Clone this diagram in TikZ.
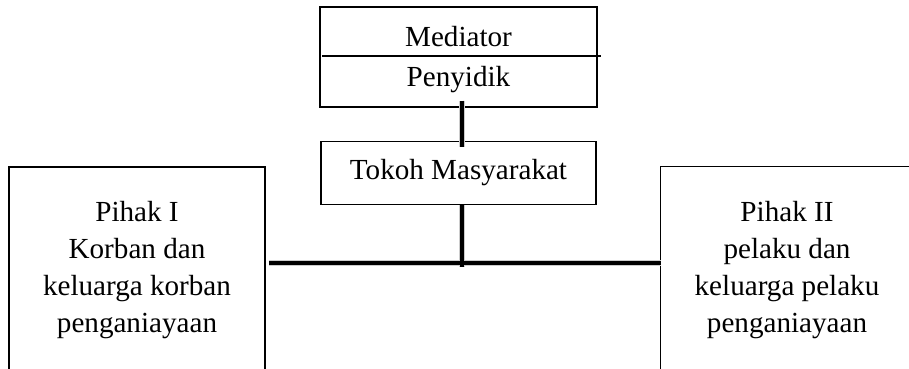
\documentclass[tikz,border=0pt]{standalone}
\usepackage{fontspec}
\setmainfont{Liberation Serif}
\usetikzlibrary{positioning}

\begin{document}
\begin{tikzpicture}[
    x=0.436pt, y=-0.436pt,
    every node/.style={font=\fontsize{12.7}{16.2}\selectfont},
    box/.style={draw, line width=0.5pt, align=center, inner sep=0pt},
    link/.style={line width=1.8pt},
    linkshade/.style={line width=2.2pt, black!20}
]
\clip (0,0) rectangle (909,369);

\node[box, minimum width=120.8pt, minimum height=43.6pt] (med) at (458.5,57) {\rule{0pt}{11.3pt}Mediator\\[1.2pt]Penyidik};
\node[box, minimum width=119.9pt, minimum height=27.5pt, below=14.4pt of med] (tokoh) {Tokoh Masyarakat};
\node[box, minimum width=111.6pt, minimum height=89.8pt] (pihak1) at (137,270) {Pihak I\\Korban dan\\keluarga korban\\penganiayaan};
\node[align=center, inner sep=0pt, minimum width=109.9pt, minimum height=89.8pt] (pihak2) at (787,270) {Pihak II\\pelaku dan\\keluarga pelaku\\penganiayaan};
\draw[line width=0.5pt] (pihak2.north west) rectangle ++(140pt,-100pt);

\draw[line width=0.5pt] ([xshift=1.3pt,yshift=0.4pt]med.west) -- ([xshift=1.3pt,yshift=0.4pt]med.east);

\coordinate (jn) at (462,263);

% soft shadow under the thick links
\begin{scope}[shift={(1,2)}]
\draw[linkshade] ([yshift=3pt]med.south -| jn) -- ([yshift=-3pt]tokoh.north -| jn);
\draw[linkshade] (tokoh.south -| jn) -- ([yshift=-1.8pt]jn);
\draw[linkshade] ([xshift=1.5pt]pihak1.east |- jn) -- (pihak2.west |- jn);
\end{scope}

\draw[link] ([yshift=3pt]med.south -| jn) -- ([yshift=-3pt]tokoh.north -| jn);
\draw[link] (tokoh.south -| jn) -- ([yshift=-1.8pt]jn);
\draw[link] ([xshift=1.5pt]pihak1.east |- jn) -- (pihak2.west |- jn);
\end{tikzpicture}
\end{document}
